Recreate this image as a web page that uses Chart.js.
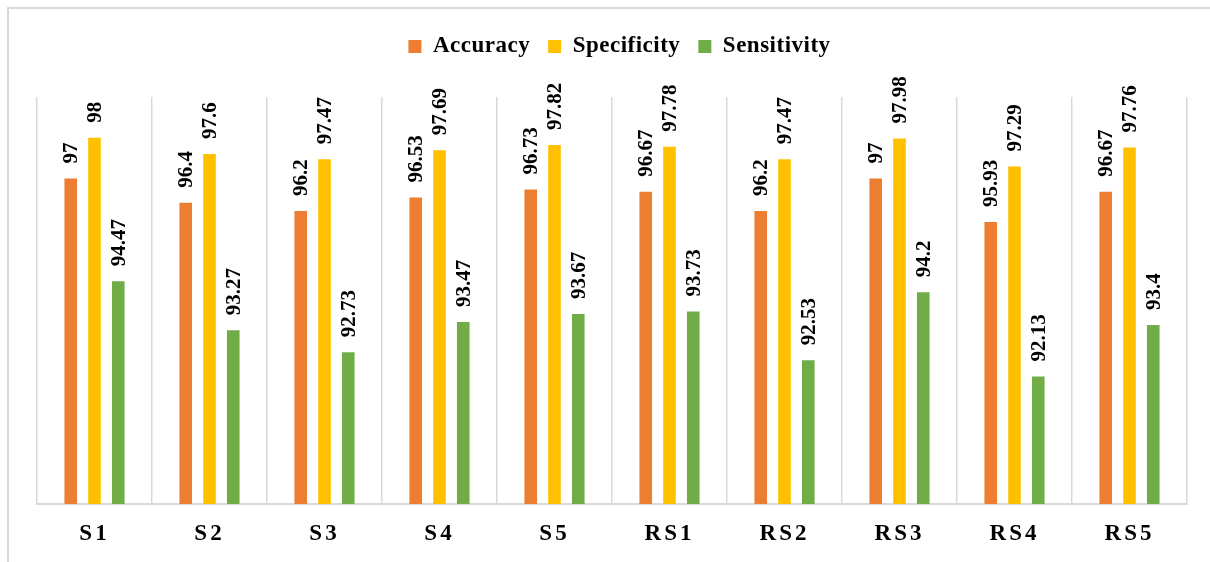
<!DOCTYPE html>
<html>
<head>
<meta charset="utf-8">
<script src="https://cdn.jsdelivr.net/npm/chart.js@4/dist/chart.umd.min.js"></script>
<style>
  html, body { margin: 0; padding: 0; background: #ffffff; }
  #wrap { position: relative; width: 1210px; height: 562px; overflow: hidden; }
  #frame { position: absolute; left: 7px; top: 7px; width: 1300px; height: 700px;
           border-left: 2px solid #d9d9d9; border-top: 2px solid #d9d9d9; box-sizing: border-box; }
  canvas { position: absolute; left: 0; top: 0; }
</style>
</head>
<body>
<div id="wrap">
  <div id="frame"></div>
  <canvas id="chart" width="1210" height="562"></canvas>
</div>
<script>
// Scenario labels and per-metric scores (%)
const categories = ['S1', 'S2', 'S3', 'S4', 'S5', 'RS1', 'RS2', 'RS3', 'RS4', 'RS5'];
const accuracy    = [97, 96.4, 96.2, 96.53, 96.73, 96.67, 96.2, 97, 95.93, 96.67];
const specificity = [98, 97.6, 97.47, 97.69, 97.82, 97.78, 97.47, 97.98, 97.29, 97.76];
const sensitivity = [94.47, 93.27, 92.73, 93.47, 93.67, 93.73, 92.53, 94.2, 92.13, 93.4];
const seriesNames = ['Accuracy', 'Specificity', 'Sensitivity'];

const COLORS = ['#ED7D31', '#FFC000', '#70AD47'];
const SERIF = '"Liberation Serif", "Times New Roman", serif';

// Wraps one drawing method of a box so its text gets extra tracking
function withSpacing(box, method, spacing) {
  const flag = '_tracked_' + method;
  if (!box || box[flag]) return;
  const orig = box[method];
  box[method] = function (...args) {
    const ctx = this.ctx;
    const prev = ctx.letterSpacing;
    ctx.letterSpacing = spacing;
    orig.apply(this, args);
    ctx.letterSpacing = prev;
  };
  box[flag] = true;
}

const layoutTweaks = {
  id: 'layoutTweaks',
  beforeLayout(chart) {
    const legend = chart.legend;
    if (legend && !legend._extended) {
      const origFit = legend.fit;
      legend.fit = function () {
        origFit.call(this);
        this.height += 29;   // gap between legend and plot area
      };
      legend._extended = true;
      withSpacing(legend, 'draw', '0.5px');
    }
    withSpacing(chart.scales.x, 'drawLabels', '3px');
  }
};

// Rotated value labels above every bar
const valueLabels = {
  id: 'valueLabels',
  afterDatasetsDraw(chart) {
    const ctx = chart.ctx;
    ctx.save();
    ctx.font = 'bold 21px ' + SERIF;
    ctx.fillStyle = '#000000';
    ctx.textAlign = 'left';
    ctx.textBaseline = 'middle';
    chart.data.datasets.forEach((ds, i) => {
      const meta = chart.getDatasetMeta(i);
      meta.data.forEach((bar, j) => {
        ctx.save();
        ctx.translate(bar.x, bar.y - 15);
        ctx.rotate(-Math.PI / 2);
        ctx.fillText(String(ds.data[j]), 0, 1);
        ctx.restore();
      });
    });
    ctx.restore();
  }
};

new Chart(document.getElementById('chart'), {
  type: 'bar',
  data: {
    labels: categories,
    datasets: [accuracy, specificity, sensitivity].map((values, i) => ({
      label: seriesNames[i],
      data: values,
      backgroundColor: COLORS[i],
      borderWidth: 0,
      categoryPercentage: 0.62,
      barPercentage: 0.53
    }))
  },
  options: {
    responsive: false,
    animation: false,
    devicePixelRatio: 1,
    layout: { padding: { left: 37, right: 23, top: 17, bottom: 0 } },
    plugins: {
      legend: {
        position: 'top',
        labels: {
          boxWidth: 13,
          boxHeight: 13,
          padding: 18,
          color: '#000000',
          font: { family: SERIF, size: 23, weight: 'bold' }
        }
      },
      tooltip: { enabled: false }
    },
    scales: {
      x: {
        grid: { color: '#d9d9d9', lineWidth: 1.5, drawTicks: false, offset: true },
        border: { color: '#d9d9d9', width: 2 },
        ticks: {
          color: '#000000',
          padding: 16,
          font: { family: SERIF, size: 23, weight: 'bold' }
        },
        afterFit(scale) { scale.height = 58; }
      },
      y: {
        display: false,
        min: 89,
        max: 99
      }
    }
  },
  plugins: [layoutTweaks, valueLabels]
});
</script>
</body>
</html>
